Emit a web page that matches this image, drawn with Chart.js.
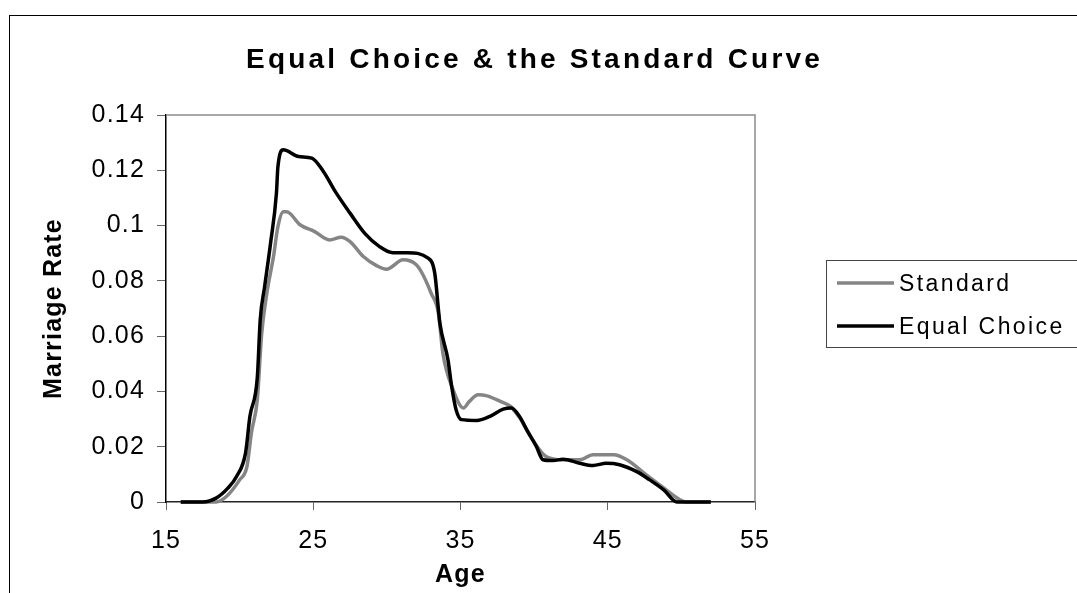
<!DOCTYPE html>
<html>
<head>
<meta charset="utf-8">
<script src="https://cdn.jsdelivr.net/npm/chart.js@4.4.1/dist/chart.umd.min.js"></script>
<style>
  html, body { margin: 0; padding: 0; background: #fff; }
  #wrap { position: relative; width: 1077px; height: 593px; }
</style>
</head>
<body>
<div id="wrap"><canvas id="grafico"></canvas></div>
<script>
// values
const chartTitle = 'Equal Choice & the Standard Curve';
const seriesNames = ['Standard', 'Equal Choice'];
const xTitle = 'Age';
const yTitle = 'Marriage Rate';

const stdAge = [16, 18.4, 19.1, 20.0, 20.5, 20.8, 21.2, 21.5, 21.85, 22.3, 22.6, 22.97, 23.2, 24.1, 25.1, 26.1, 26.9, 27.5, 28.4, 29.3, 29.97, 31.1, 32.0, 32.45, 33.0, 33.5, 33.8, 34.5, 35.2, 35.6, 36.2, 36.8, 37.7, 38.4, 39.1, 39.9, 40.8, 41.96, 43.1, 44.0, 45.4, 46.3, 47.6, 48.8, 49.9, 50.3, 52.0];
const stdRate = [0, 0, 0.002, 0.008, 0.0129, 0.025, 0.037, 0.061, 0.0756, 0.0888, 0.0996, 0.105, 0.105, 0.1003, 0.0978, 0.0948, 0.0958, 0.0942, 0.0888, 0.0855, 0.0842, 0.0876, 0.0858, 0.0822, 0.0756, 0.0683, 0.0539, 0.0406, 0.034, 0.0364, 0.0388, 0.0384, 0.0364, 0.0346, 0.0298, 0.0225, 0.0165, 0.0153, 0.0153, 0.0171, 0.0171, 0.0153, 0.0099, 0.0051, 0.0008, 0, 0];

const eqAge = [16, 17.5, 18.4, 19.2, 19.8, 20.4, 20.7, 21.2, 21.4, 21.7, 22.1, 22.5, 22.6, 22.97, 24.0, 24.9, 25.7, 26.5, 27.5, 28.5, 29.5, 30.4, 31.4, 32.8, 33.25, 33.6, 34.15, 34.4, 34.7, 35.07, 36.1, 37.0, 37.9, 38.45, 39.0, 39.5, 40.15, 40.6, 41.3, 41.96, 43.1, 44.0, 44.9, 45.8, 46.97, 47.85, 48.8, 49.7, 52.0];
const eqRate = [0, 0, 0.0014, 0.005, 0.0093, 0.0177, 0.031, 0.045, 0.066, 0.078, 0.0936, 0.1117, 0.1213, 0.1274, 0.125, 0.1244, 0.1195, 0.1123, 0.1045, 0.0972, 0.0924, 0.0902, 0.0902, 0.0882, 0.0828, 0.0647, 0.0514, 0.0418, 0.0334, 0.0298, 0.0295, 0.031, 0.0336, 0.034, 0.031, 0.0261, 0.0201, 0.0153, 0.015, 0.0155, 0.014, 0.0132, 0.014, 0.0135, 0.011, 0.008, 0.0044, 0, 0];

const xTicks = [15, 25, 35, 45, 55];
const yTicks = [0, 0.02, 0.04, 0.06, 0.08, 0.1, 0.12, 0.14];

const FONT = '"Liberation Sans", Arial, sans-serif';
Chart.defaults.font.family = FONT;
Chart.defaults.color = '#000';

function pontos(xs, ys) {
  return xs.map((x, i) => ({ x: x, y: ys[i] }));
}

// frame, title, grey plot edges and the boxed legend
const enfeites = {
  id: 'enfeites',
  beforeDraw(chart) {
    const ctx = chart.ctx;
    ctx.save();
    ctx.strokeStyle = '#000';
    ctx.lineWidth = 1;
    ctx.strokeRect(9.5, 15.5, 1200, 700);
    ctx.restore();
    ctx.letterSpacing = '1.2px';
  },
  beforeDatasetsDraw(chart) {
    const ctx = chart.ctx;
    const a = chart.chartArea;
    ctx.save();
    ctx.strokeStyle = '#8c8c8c';
    ctx.lineWidth = 1.5;
    ctx.beginPath();
    ctx.moveTo(a.left, a.top);
    ctx.lineTo(a.right, a.top);
    ctx.lineTo(a.right, a.bottom);
    ctx.stroke();
    ctx.restore();
  },
  afterDraw(chart) {
    const ctx = chart.ctx;
    ctx.save();
    ctx.fillStyle = '#000';
    ctx.textAlign = 'left';
    ctx.textBaseline = 'alphabetic';
    ctx.letterSpacing = '3.2px';
    ctx.font = 'bold 28px ' + FONT;
    ctx.fillText(chartTitle, 246, 68);

    ctx.letterSpacing = '0px';
    ctx.strokeStyle = '#444';
    ctx.lineWidth = 1;
    ctx.strokeRect(826.5, 260.5, 400, 87);

    const ys = [283, 326];
    chart.data.datasets.forEach((ds, i) => {
      ctx.strokeStyle = ds.borderColor;
      ctx.lineWidth = ds.borderWidth;
      ctx.beginPath();
      ctx.moveTo(837, ys[i]);
      ctx.lineTo(894, ys[i]);
      ctx.stroke();
      ctx.letterSpacing = '2.4px';
      ctx.font = '23px ' + FONT;
      ctx.fillText(ds.label, 899, ys[i] + 7.5);
      ctx.letterSpacing = '0px';
    });
    ctx.restore();
    ctx.letterSpacing = '0px';
  }
};

const graficoCtx = document.getElementById('grafico').getContext('2d');
const grafico = new Chart(graficoCtx, {
  type: 'scatter',
  data: {
    datasets: [
      {
        label: seriesNames[0],
        data: pontos(stdAge, stdRate),
        showLine: true,
        borderColor: '#858585',
        borderWidth: 3.5,
        pointRadius: 0,
        cubicInterpolationMode: 'monotone',
        order: 2,
        clip: false
      },
      {
        label: seriesNames[1],
        data: pontos(eqAge, eqRate),
        showLine: true,
        borderColor: '#000',
        borderWidth: 3.5,
        pointRadius: 0,
        cubicInterpolationMode: 'monotone',
        order: 1,
        clip: false
      }
    ]
  },
  options: {
    responsive: true,
    maintainAspectRatio: false,
    animation: false,
    events: [],
    layout: { padding: { left: 0, top: 115, right: 322, bottom: 0 } },
    plugins: {
      legend: { display: false },
      title: { display: false },
      tooltip: { enabled: false }
    },
    scales: {
      x: {
        type: 'linear',
        min: xTicks[0],
        max: xTicks[xTicks.length - 1],
        afterBuildTicks: s => { s.ticks = xTicks.map(v => ({ value: v })); },
        afterFit: s => { s.height = 91; },
        grid: { drawOnChartArea: false, drawTicks: true, tickLength: 8, tickColor: '#666' },
        border: { color: '#222', width: 1.5 },
        ticks: { padding: 16, font: { size: 25 }, color: '#000' },
        title: {
          display: true, text: xTitle, color: '#000',
          font: { size: 25, weight: 'bold' },
          padding: { top: 0, bottom: 3 }
        }
      },
      y: {
        type: 'linear',
        min: yTicks[0],
        max: yTicks[yTicks.length - 1],
        afterBuildTicks: s => { s.ticks = yTicks.map(v => ({ value: v })); },
        afterFit: s => { s.width = 166; },
        grid: { drawOnChartArea: false, drawTicks: true, tickLength: 9, tickColor: '#666' },
        border: { color: '#000', width: 1.5 },
        ticks: {
          padding: 12,
          font: { size: 25 },
          color: '#000',
          callback: v => String(+v.toFixed(2))
        },
        title: {
          display: true, text: yTitle, color: '#000',
          font: { size: 25, weight: 'bold' },
          padding: { top: 39, bottom: 0 }
        }
      }
    }
  },
  plugins: [enfeites]
});
</script>
</body>
</html>
